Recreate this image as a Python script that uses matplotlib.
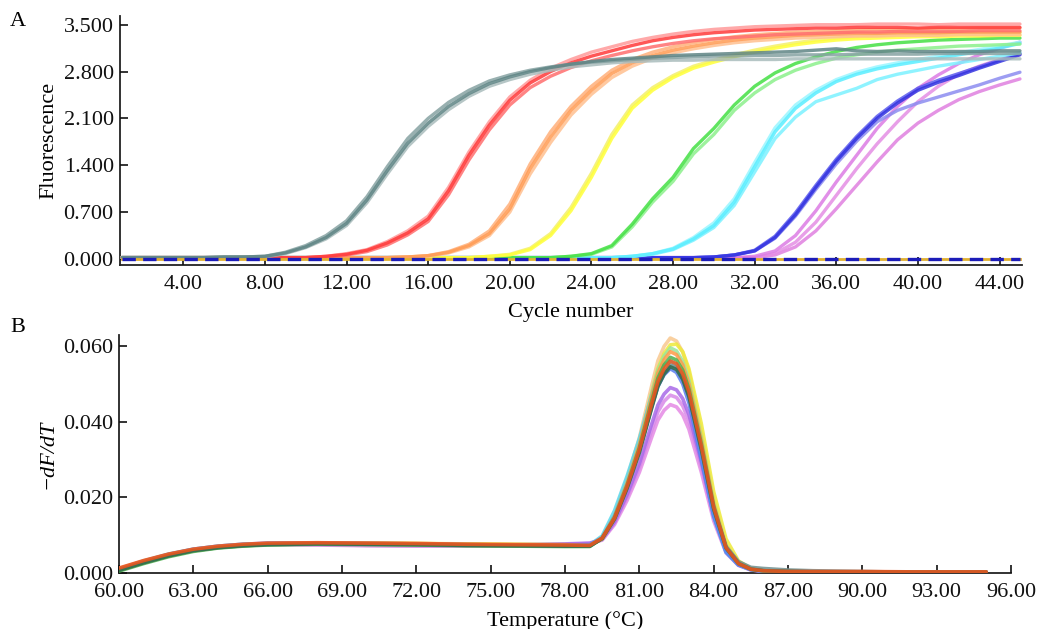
import matplotlib
matplotlib.use("Agg")
import matplotlib.pyplot as plt
from matplotlib.ticker import FixedLocator, FormatStrFormatter

plt.rcParams['font.family'] = ['Liberation Serif', 'DejaVu Serif']

# ---------------- Panel A : amplification curves ----------------
cycles = list(range(1, 46))

gray_1 = [0.02,0.02,0.02,0.02,0.02,0.03,0.03,0.04,0.09,0.18, 0.32,0.53,0.88,1.32,1.73,2.03,2.28,2.47,2.62,2.72,
          2.80,2.86,2.91,2.95,2.98,3.00,3.02,3.04,3.05,3.06, 3.07,3.08,3.09,3.10,3.12,3.14,3.11,3.10,3.11,3.10,
          3.10,3.10,3.10,3.11,3.11]
gray_2 = [0.02,0.02,0.02,0.02,0.02,0.03,0.03,0.04,0.10,0.20, 0.35,0.57,0.93,1.38,1.80,2.10,2.34,2.52,2.66,2.75,
          2.82,2.87,2.91,2.94,2.96,2.98,3.00,3.01,3.02,3.03, 3.03,3.04,3.04,3.05,3.05,3.05,3.06,3.06,3.06,3.06,
          3.07,3.07,3.07,3.07,3.07]
gray_3 = [0.02,0.02,0.02,0.02,0.02,0.02,0.03,0.03,0.08,0.17, 0.30,0.50,0.84,1.27,1.68,1.98,2.23,2.43,2.58,2.68,
          2.76,2.82,2.87,2.90,2.93,2.95,2.96,2.97,2.97,2.98, 2.98,2.98,2.98,2.99,2.99,2.99,2.99,2.99,2.99,2.99,
          2.99,2.99,2.99,2.99,2.99]
red_1 = [0.02,0.02,0.02,0.02,0.02,0.02,0.02,0.02,0.02,0.02, 0.04,0.07,0.13,0.24,0.39,0.60,1.02,1.55,2.00,2.37,
         2.63,2.80,2.93,3.03,3.11,3.19,3.26,3.31,3.35,3.38, 3.40,3.42,3.43,3.44,3.45,3.45,3.46,3.46,3.46,3.45,
         3.46,3.46,3.46,3.46,3.46]
red_2 = [0.02,0.02,0.02,0.02,0.02,0.02,0.02,0.02,0.02,0.02, 0.03,0.06,0.11,0.21,0.36,0.56,0.96,1.48,1.93,2.30,
         2.56,2.73,2.86,2.96,3.04,3.11,3.17,3.22,3.26,3.29, 3.31,3.33,3.35,3.36,3.37,3.38,3.39,3.39,3.40,3.40,
         3.40,3.40,3.41,3.41,3.41]
red_3 = [0.02,0.02,0.02,0.02,0.02,0.02,0.02,0.02,0.02,0.02, 0.04,0.08,0.14,0.26,0.42,0.64,1.07,1.60,2.05,2.42,
         2.67,2.85,2.98,3.09,3.17,3.25,3.31,3.36,3.40,3.43, 3.45,3.47,3.48,3.49,3.50,3.50,3.50,3.51,3.51,3.51,
         3.50,3.51,3.51,3.51,3.51]
orange_1 = [0.02,0.02,0.02,0.02,0.02,0.02,0.02,0.02,0.02,0.02, 0.02,0.02,0.02,0.02,0.03,0.05,0.10,0.20,0.38,0.75,
            1.35,1.82,2.22,2.52,2.77,2.93,3.04,3.12,3.18,3.23, 3.27,3.30,3.32,3.34,3.35,3.36,3.37,3.37,3.38,3.38,
            3.38,3.39,3.39,3.39,3.39]
orange_2 = [0.02,0.02,0.02,0.02,0.02,0.02,0.02,0.02,0.02,0.02, 0.02,0.02,0.02,0.02,0.03,0.05,0.11,0.22,0.42,0.82,
            1.42,1.90,2.28,2.58,2.82,2.98,3.09,3.17,3.23,3.28, 3.32,3.35,3.37,3.39,3.40,3.41,3.42,3.43,3.43,3.44,
            3.44,3.44,3.45,3.45,3.45]
orange_3 = [0.02,0.02,0.02,0.02,0.02,0.02,0.02,0.02,0.02,0.02, 0.02,0.02,0.02,0.02,0.03,0.04,0.09,0.18,0.35,0.70,
            1.27,1.74,2.15,2.46,2.71,2.88,3.00,3.08,3.14,3.19, 3.23,3.26,3.28,3.30,3.31,3.32,3.33,3.33,3.34,3.34,
            3.34,3.35,3.35,3.35,3.35]
yellow_1 = [0.02,0.02,0.02,0.02,0.02,0.02,0.02,0.02,0.02,0.02, 0.02,0.02,0.02,0.02,0.02,0.02,0.02,0.02,0.04,0.06,
            0.14,0.35,0.72,1.22,1.80,2.25,2.52,2.71,2.85,2.94, 3.02,3.09,3.15,3.20,3.24,3.27,3.29,3.30,3.31,3.32,
            3.32,3.33,3.33,3.34,3.34]
yellow_2 = [0.02,0.02,0.02,0.02,0.02,0.02,0.02,0.02,0.02,0.02, 0.02,0.02,0.02,0.02,0.02,0.02,0.02,0.02,0.04,0.07,
            0.16,0.38,0.77,1.28,1.86,2.30,2.56,2.74,2.88,2.97, 3.05,3.12,3.18,3.23,3.27,3.30,3.32,3.34,3.35,3.36,
            3.37,3.37,3.38,3.38,3.38]
green_1 = [0.02,0.02,0.02,0.02,0.02,0.02,0.02,0.02,0.02,0.02, 0.02,0.02,0.02,0.02,0.02,0.02,0.02,0.02,0.02,0.02,
           0.02,0.02,0.04,0.08,0.20,0.52,0.90,1.22,1.65,1.95, 2.30,2.58,2.78,2.92,3.02,3.10,3.16,3.20,3.23,3.25,
           3.27,3.28,3.29,3.30,3.30]
green_2 = [0.02,0.02,0.02,0.02,0.02,0.02,0.02,0.02,0.02,0.02, 0.02,0.02,0.02,0.02,0.02,0.02,0.02,0.02,0.02,0.02,
           0.02,0.02,0.04,0.07,0.18,0.48,0.85,1.16,1.57,1.86, 2.22,2.48,2.68,2.82,2.92,3.00,3.05,3.09,3.12,3.14,
           3.16,3.18,3.19,3.20,3.21]
cyan_1 = [0.02,0.02,0.02,0.02,0.02,0.02,0.02,0.02,0.02,0.02, 0.02,0.02,0.02,0.02,0.02,0.02,0.02,0.02,0.02,0.02,
          0.02,0.02,0.02,0.02,0.02,0.04,0.08,0.15,0.30,0.50, 0.85,1.38,1.90,2.25,2.48,2.65,2.76,2.84,2.90,2.95,
          3.00,3.05,3.10,3.15,3.22]
cyan_2 = [0.02,0.02,0.02,0.02,0.02,0.02,0.02,0.02,0.02,0.02, 0.02,0.02,0.02,0.02,0.02,0.02,0.02,0.02,0.02,0.02,
          0.02,0.02,0.02,0.02,0.02,0.04,0.08,0.16,0.32,0.54, 0.90,1.44,1.96,2.30,2.52,2.68,2.79,2.87,2.93,2.98,
          3.03,3.08,3.13,3.18,3.24]
cyan_3 = [0.02,0.02,0.02,0.02,0.02,0.02,0.02,0.02,0.02,0.02, 0.02,0.02,0.02,0.02,0.02,0.02,0.02,0.02,0.02,0.02,
          0.02,0.02,0.02,0.02,0.02,0.04,0.07,0.14,0.28,0.47, 0.80,1.30,1.80,2.12,2.35,2.45,2.55,2.68,2.76,2.82,
          2.88,2.93,2.98,3.03,3.08]
blue_1 = [0.02,0.02,0.02,0.02,0.02,0.02,0.02,0.02,0.02,0.02, 0.02,0.02,0.02,0.02,0.02,0.02,0.02,0.02,0.02,0.02,
          0.02,0.02,0.02,0.02,0.02,0.02,0.02,0.02,0.02,0.03, 0.06,0.12,0.32,0.66,1.07,1.46,1.80,2.10,2.33,2.52,
          2.64,2.74,2.85,2.95,3.05]
blue_2 = [0.02,0.02,0.02,0.02,0.02,0.02,0.02,0.02,0.02,0.02, 0.02,0.02,0.02,0.02,0.02,0.02,0.02,0.02,0.02,0.02,
          0.02,0.02,0.02,0.02,0.02,0.02,0.02,0.02,0.02,0.03, 0.06,0.13,0.34,0.69,1.10,1.49,1.83,2.13,2.36,2.55,
          2.67,2.77,2.87,2.97,3.07]
blue_3 = [0.02,0.02,0.02,0.02,0.02,0.02,0.02,0.02,0.02,0.02, 0.02,0.02,0.02,0.02,0.02,0.02,0.02,0.02,0.02,0.02,
          0.02,0.02,0.02,0.02,0.02,0.02,0.02,0.02,0.02,0.03, 0.06,0.12,0.31,0.64,1.04,1.42,1.76,2.05,2.22,2.33,
          2.42,2.51,2.60,2.70,2.79]
pink_1 = [0.02,0.02,0.02,0.02,0.02,0.02,0.02,0.02,0.02,0.02, 0.02,0.02,0.02,0.02,0.02,0.02,0.02,0.02,0.02,0.02,
          0.02,0.02,0.02,0.02,0.02,0.02,0.02,0.02,0.02,0.02, 0.02,0.04,0.12,0.35,0.72,1.15,1.55,1.95,2.28,2.55,
          2.75,2.92,3.05,3.15,3.24]
pink_2 = [0.02,0.02,0.02,0.02,0.02,0.02,0.02,0.02,0.02,0.02, 0.02,0.02,0.02,0.02,0.02,0.02,0.02,0.02,0.02,0.02,
          0.02,0.02,0.02,0.02,0.02,0.02,0.02,0.02,0.02,0.02, 0.02,0.02,0.06,0.18,0.42,0.75,1.10,1.45,1.78,2.03,
          2.22,2.38,2.50,2.60,2.69]
pink_3 = [0.02,0.02,0.02,0.02,0.02,0.02,0.02,0.02,0.02,0.02, 0.02,0.02,0.02,0.02,0.02,0.02,0.02,0.02,0.02,0.02,
          0.02,0.02,0.02,0.02,0.02,0.02,0.02,0.02,0.02,0.02, 0.02,0.02,0.08,0.25,0.55,0.95,1.35,1.72,2.05,2.35,
          2.58,2.76,2.88,2.98,3.06]
ntc = [0.00,0.00,0.00,0.00,0.00,0.00,0.00,0.00,0.00,0.00, 0.00,0.00,0.00,0.00,0.00,0.00,0.00,0.00,0.00,0.00,
       0.00,0.00,0.00,0.00,0.00,0.00,0.00,0.00,0.00,0.00, 0.00,0.00,0.00,0.00,0.00,0.00,0.00,0.00,0.00,0.00,
       0.00,0.00,0.00,0.00,0.00]

amp_series = [
    (pink_2, "#e080e0"), (pink_3, "#e48ee4"), (pink_1, "#dc7ce4"),
    (blue_3, "#8c8cf0"), (blue_2, "#5a5aee"), (blue_1, "#3434e0"),
    (cyan_3, "#7cf2ff"), (cyan_2, "#9af6ff"), (cyan_1, "#5aeeff"),
    (green_2, "#8cf08c"), (green_1, "#44e044"),
    (yellow_2, "#f4f06a"), (yellow_1, "#ffff3a"),
    (orange_3, "#ffc090"), (orange_2, "#ffb07a"), (orange_1, "#ff9c55"),
    (red_3, "#ff9a9a"), (red_2, "#ff6e6e"), (red_1, "#ff3a3a"),
    (gray_3, "#a9bcbc"), (gray_2, "#86a2a2"), (gray_1, "#5f8585"),
]
amp_yticks = [0.0, 0.7, 1.4, 2.1, 2.8, 3.5]
amp_xticks = [4, 8, 12, 16, 20, 24, 28, 32, 36, 40, 44]

# ---------------- Panel B : melt curves ----------------
temps = [60, 61, 62, 63, 64, 65, 66, 68, 70, 72, 74, 76, 78, 79,
         79.5, 80, 80.5, 81, 81.5, 81.75, 82, 82.25, 82.5, 82.75, 83, 83.5, 84, 84.5, 85, 85.5, 86,
         87, 88, 90, 92, 94, 95]

m_peach = [0.0012,0.0032,0.0049,0.0062,0.0070,0.0075,0.0078,0.0080,0.0079,0.0078,0.0076,0.0075,0.0074,0.0073,
           0.0094,0.0154,0.0248,0.0357,0.0495,0.0561,0.0599,0.0621,0.0613,0.0584,0.0531,0.0373,0.0193,0.0075,0.0028,0.0011,0.0006,
           0.0004,0.0003,0.0003,0.0002,0.0002,0.0002]
m_yellow = [0.0010,0.0030,0.0047,0.0060,0.0068,0.0073,0.0076,0.0079,0.0079,0.0078,0.0077,0.0076,0.0075,0.0073,
            0.0090,0.0145,0.0235,0.0340,0.0475,0.0540,0.0580,0.0603,0.0605,0.0585,0.0540,0.0395,0.0215,0.0090,0.0032,0.0012,0.0006,
            0.0004,0.0003,0.0003,0.0002,0.0002,0.0002]
m_lgreen = [0.0008,0.0028,0.0046,0.0059,0.0067,0.0072,0.0075,0.0077,0.0076,0.0075,0.0073,0.0072,0.0071,0.0071,
            0.0093,0.0150,0.0239,0.0344,0.0475,0.0537,0.0574,0.0595,0.0587,0.0559,0.0509,0.0357,0.0184,0.0071,0.0027,0.0011,0.0006,
            0.0004,0.0003,0.0003,0.0002,0.0002,0.0002]
m_orange = [0.0011,0.0031,0.0048,0.0061,0.0069,0.0074,0.0077,0.0079,0.0078,0.0077,0.0075,0.0074,0.0073,0.0072,
            0.0093,0.0149,0.0236,0.0339,0.0467,0.0529,0.0564,0.0585,0.0577,0.0550,0.0500,0.0351,0.0181,0.0070,0.0026,0.0011,0.0006,
            0.0004,0.0003,0.0003,0.0002,0.0002,0.0002]
m_green = [0.0005,0.0025,0.0043,0.0057,0.0066,0.0071,0.0074,0.0076,0.0075,0.0074,0.0072,0.0071,0.0070,0.0070,
           0.0092,0.0147,0.0231,0.0331,0.0455,0.0515,0.0550,0.0570,0.0563,0.0536,0.0487,0.0342,0.0177,0.0068,0.0026,0.0010,0.0006,
           0.0004,0.0003,0.0003,0.0002,0.0002,0.0002]
m_cyan = [0.0011,0.0032,0.0050,0.0063,0.0071,0.0076,0.0078,0.0079,0.0078,0.0077,0.0075,0.0074,0.0073,0.0074,
          0.0098,0.0165,0.0255,0.0355,0.0470,0.0520,0.0548,0.0560,0.0550,0.0520,0.0468,0.0310,0.0150,0.0055,0.0022,0.0009,0.0005,
          0.0004,0.0003,0.0003,0.0002,0.0002,0.0002]
m_blue = [0.0010,0.0031,0.0049,0.0062,0.0070,0.0075,0.0078,0.0079,0.0078,0.0077,0.0075,0.0074,0.0074,0.0075,
          0.0093,0.0150,0.0232,0.0325,0.0440,0.0493,0.0524,0.0540,0.0530,0.0500,0.0450,0.0300,0.0150,0.0055,0.0021,0.0009,0.0005,
          0.0004,0.0003,0.0003,0.0002,0.0002,0.0002]
m_violet = [0.0009,0.0030,0.0049,0.0063,0.0071,0.0076,0.0079,0.0079,0.0077,0.0076,0.0075,0.0075,0.0077,0.0079,
            0.0089,0.0135,0.0206,0.0289,0.0394,0.0444,0.0473,0.0490,0.0484,0.0461,0.0419,0.0294,0.0152,0.0059,0.0022,0.0009,0.0005,
            0.0004,0.0003,0.0003,0.0002,0.0002,0.0002]
m_pink1 = [0.0009,0.0029,0.0047,0.0061,0.0069,0.0074,0.0076,0.0075,0.0073,0.0072,0.0072,0.0073,0.0076,0.0078,
           0.0088,0.0132,0.0199,0.0279,0.0378,0.0426,0.0454,0.0470,0.0464,0.0442,0.0402,0.0282,0.0146,0.0056,0.0021,0.0008,0.0005,
           0.0004,0.0003,0.0003,0.0002,0.0002,0.0002]
m_pink2 = [0.0008,0.0028,0.0046,0.0060,0.0068,0.0073,0.0075,0.0074,0.0072,0.0071,0.0071,0.0072,0.0075,0.0077,
           0.0087,0.0128,0.0191,0.0266,0.0359,0.0404,0.0430,0.0445,0.0439,0.0418,0.0380,0.0267,0.0138,0.0053,0.0020,0.0008,0.0005,
           0.0004,0.0003,0.0003,0.0002,0.0002,0.0002]
m_gray = [0.0010,0.0030,0.0047,0.0060,0.0068,0.0073,0.0076,0.0078,0.0077,0.0076,0.0074,0.0073,0.0072,0.0072,
          0.0091,0.0144,0.0225,0.0321,0.0440,0.0497,0.0531,0.0550,0.0543,0.0517,0.0470,0.0330,0.0171,0.0070,0.0030,0.0015,0.0012,
          0.0008,0.0006,0.0004,0.0002,0.0002,0.0002]
m_dkgreen = [0.0007,0.0027,0.0045,0.0059,0.0067,0.0072,0.0075,0.0077,0.0076,0.0075,0.0073,0.0072,0.0071,0.0071,
             0.0091,0.0143,0.0223,0.0318,0.0436,0.0493,0.0526,0.0545,0.0538,0.0512,0.0466,0.0327,0.0169,0.0066,0.0025,0.0010,0.0006,
             0.0004,0.0003,0.0003,0.0002,0.0002,0.0002]
m_red = [0.0013,0.0033,0.0050,0.0063,0.0071,0.0076,0.0079,0.0080,0.0079,0.0078,0.0076,0.0075,0.0074,0.0073,
         0.0092,0.0145,0.0228,0.0326,0.0448,0.0506,0.0540,0.0560,0.0553,0.0526,0.0479,0.0336,0.0174,0.0067,0.0025,0.0010,0.0006,
         0.0004,0.0004,0.0004,0.0003,0.0003,0.0003]

melt_series = [
    (m_pink2, "#e58ae5"), (m_pink1, "#d98ae8"), (m_violet, "#a86ae8"),
    (m_peach, "#f8c890"), (m_yellow, "#eeea3a"), (m_lgreen, "#9ae69a"),
    (m_cyan, "#5ad8ec"), (m_blue, "#5a7ef0"), (m_orange, "#ff9a48"),
    (m_green, "#4cb04c"), (m_gray, "#6f8f8f"), (m_dkgreen, "#2f6a48"),
    (m_red, "#f0541c"),
]
melt_yticks = [0.0, 0.02, 0.04, 0.06]
melt_xticks = [60, 63, 66, 69, 72, 75, 78, 81, 84, 87, 90, 93, 96]

# ---------------- Figure ----------------
W, H = 1042, 629
fig = plt.figure(figsize=(W / 100, H / 100), dpi=100)
FS = 16

axA = fig.add_axes([120 / W, 1 - 265 / H, (1022 - 120) / W, (265 - 16) / H])
axB = fig.add_axes([119 / W, 1 - 573 / H, (1011 - 119) / W, (573 - 335) / H])

for ys, col in amp_series:
    axA.plot(cycles, ys, color=col, lw=2.4, alpha=0.85, solid_capstyle='round', zorder=2)
axA.plot(cycles, ntc, color="#e0b030", lw=2.0, zorder=3)
axA.plot(cycles, ntc, color="#1c1cb8", lw=2.4, dashes=(4, 2.2), zorder=4)

axA.set_xlim(0.9, 45.1)
axA.set_ylim(-0.09, 3.63)
axA.xaxis.set_major_locator(FixedLocator(amp_xticks))
axA.yaxis.set_major_locator(FixedLocator(amp_yticks))
axA.xaxis.set_major_formatter(FormatStrFormatter('%.2f'))
axA.yaxis.set_major_formatter(FormatStrFormatter('%.3f'))
axA.set_xlabel("Cycle number", fontsize=FS, labelpad=6)
axA.set_ylabel("Fluorescence", fontsize=FS, labelpad=4)

for ys, col in melt_series:
    axB.plot(temps, ys, color=col, lw=2.6, alpha=0.85, solid_capstyle='round', zorder=2)

axB.set_xlim(60, 96)
axB.set_ylim(0, 0.0629)
axB.xaxis.set_major_locator(FixedLocator(melt_xticks))
axB.yaxis.set_major_locator(FixedLocator(melt_yticks))
axB.xaxis.set_major_formatter(FormatStrFormatter('%.2f'))
axB.yaxis.set_major_formatter(FormatStrFormatter('%.3f'))
axB.set_xlabel("Temperature (°C)", fontsize=FS, labelpad=6)
axB.set_ylabel("\u2212dF/dT", fontsize=FS, fontstyle='italic', labelpad=4)

for ax in (axA, axB):
    for s in ("top", "right"):
        ax.spines[s].set_visible(False)
    for s in ("left", "bottom"):
        ax.spines[s].set_linewidth(1.3)
        ax.spines[s].set_color("#222222")
        ax.spines[s].set_zorder(1)
    ax.tick_params(direction='in', length=6, width=1.2, labelsize=FS, colors="#111111")
    ax.tick_params(axis='x', pad=7.5)
    ax.tick_params(axis='y', pad=4.5)
    ax.set_facecolor('white')

fig.text(10 / W, 1 - 22 / H, "A", fontsize=FS, va='center', ha='left')
fig.text(10 / W, 1 - 327 / H, "B", fontsize=FS, va='center', ha='left')

fig.savefig("out.png", dpi=100, facecolor='white')
